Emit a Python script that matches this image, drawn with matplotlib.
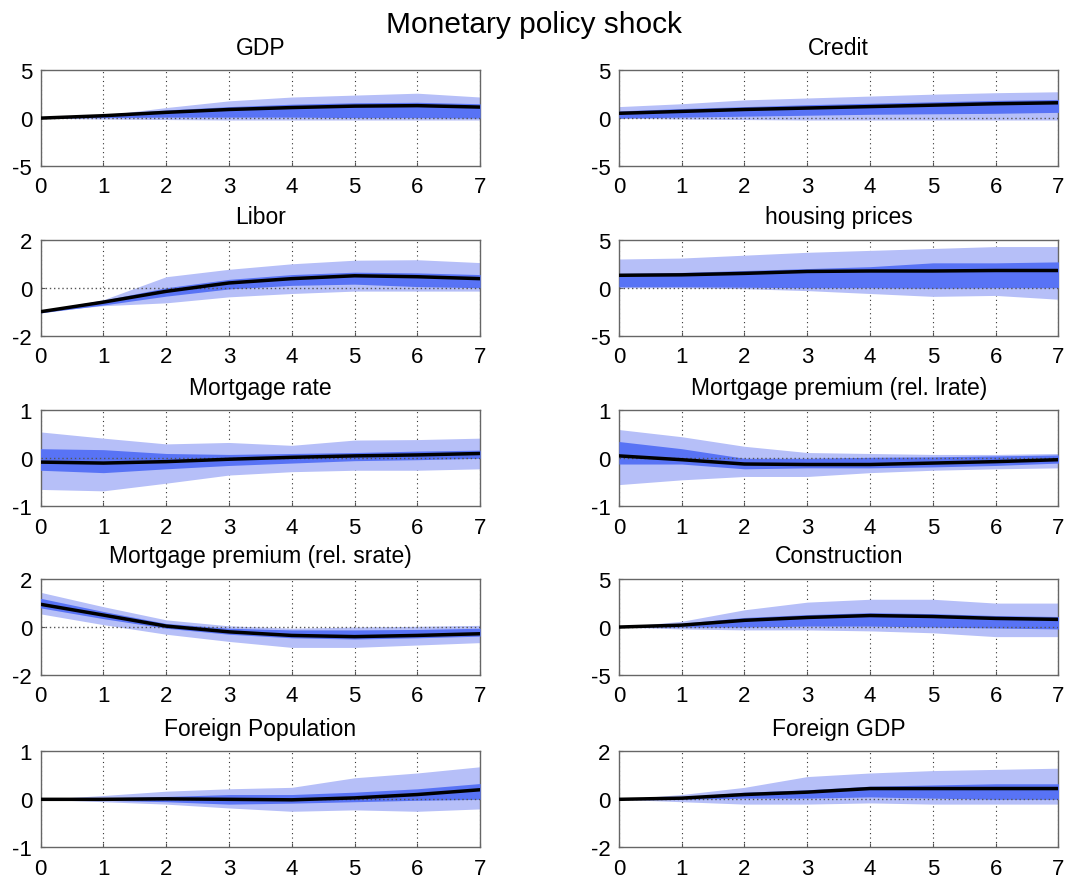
import matplotlib
matplotlib.use("Agg")
import matplotlib.pyplot as plt
import numpy as np

plt.rcParams['font.family'] = ['Liberation Sans', 'DejaVu Sans']
plt.rcParams['axes.unicode_minus'] = False

horizon = [0, 1, 2, 3, 4, 5, 6, 7]

titles = ["GDP", "Credit", "Libor", "housing prices", "Mortgage rate",
          "Mortgage premium (rel. lrate)", "Mortgage premium (rel. srate)",
          "Construction", "Foreign Population", "Foreign GDP"]

ylims = [(-5, 5), (-5, 5), (-2, 2), (-5, 5), (-1, 1),
         (-1, 1), (-2, 2), (-5, 5), (-1, 1), (-2, 2)]

# median responses
gdp_med = [0.0, 0.25, 0.6, 0.9, 1.1, 1.25, 1.3, 1.15]
credit_med = [0.5, 0.7, 0.9, 1.05, 1.2, 1.35, 1.5, 1.6]
libor_med = [-1.0, -0.6, -0.15, 0.2, 0.38, 0.5, 0.46, 0.38]
house_med = [1.3, 1.35, 1.5, 1.7, 1.75, 1.75, 1.8, 1.8]
mrate_med = [-0.08, -0.1, -0.07, -0.02, 0.02, 0.05, 0.07, 0.1]
mprem_l_med = [0.05, -0.03, -0.12, -0.13, -0.13, -0.1, -0.07, -0.03]
mprem_s_med = [0.95, 0.5, 0.04, -0.2, -0.35, -0.4, -0.35, -0.28]
constr_med = [0.0, 0.2, 0.7, 1.0, 1.2, 1.1, 0.9, 0.8]
fpop_med = [0.0, 0.0, 0.01, 0.0, -0.01, 0.03, 0.1, 0.2]
fgdp_med = [0.0, 0.05, 0.2, 0.3, 0.45, 0.45, 0.45, 0.45]

# outer (light) bands
gdp_lo = [0.0, -0.1, -0.15, -0.2, -0.2, -0.2, -0.2, -0.2]
gdp_hi = [0.0, 0.3, 1.1, 1.8, 2.2, 2.4, 2.6, 2.2]
credit_lo = [0.0, -0.1, -0.15, -0.2, -0.2, -0.2, -0.2, -0.2]
credit_hi = [1.2, 1.5, 1.9, 2.1, 2.3, 2.5, 2.65, 2.75]
libor_lo = [-1.0, -0.75, -0.63, -0.38, -0.24, -0.14, -0.14, -0.14]
libor_hi = [-1.0, -0.5, 0.46, 0.77, 1.0, 1.15, 1.17, 1.05]
house_lo = [0.0, 0.0, -0.1, -0.3, -0.6, -0.9, -0.8, -1.2]
house_hi = [3.0, 3.1, 3.4, 3.7, 3.9, 4.1, 4.3, 4.3]
mrate_lo = [-0.65, -0.68, -0.52, -0.35, -0.28, -0.25, -0.25, -0.22]
mrate_hi = [0.55, 0.42, 0.3, 0.33, 0.27, 0.38, 0.39, 0.42]
mprem_l_lo = [-0.55, -0.45, -0.38, -0.38, -0.3, -0.25, -0.22, -0.2]
mprem_l_hi = [0.6, 0.45, 0.25, 0.12, 0.1, 0.08, 0.08, 0.1]
mprem_s_lo = [0.55, 0.1, -0.3, -0.6, -0.85, -0.85, -0.75, -0.65]
mprem_s_hi = [1.45, 0.85, 0.3, 0.05, -0.05, 0.0, 0.03, 0.07]
constr_lo = [0.0, -0.2, -0.3, -0.3, -0.4, -0.6, -1.0, -1.0]
constr_hi = [0.0, 0.6, 1.8, 2.6, 2.9, 2.9, 2.5, 2.5]
fpop_lo = [0.0, -0.05, -0.1, -0.18, -0.25, -0.22, -0.25, -0.2]
fpop_hi = [0.0, 0.08, 0.17, 0.22, 0.25, 0.45, 0.55, 0.68]
fgdp_lo = [0.0, -0.1, -0.2, -0.2, -0.15, -0.2, -0.2, -0.2]
fgdp_hi = [0.0, 0.2, 0.5, 0.95, 1.1, 1.2, 1.25, 1.3]

# inner (dark) bands
gdp_ilo = [0.0, 0.05, 0.1, 0.1, 0.1, 0.05, 0.05, 0.0]
gdp_ihi = [0.05, 0.4, 0.85, 1.2, 1.45, 1.6, 1.65, 1.5]
credit_ilo = [0.0, 0.1, 0.2, 0.3, 0.4, 0.45, 0.5, 0.6]
credit_ihi = [0.75, 1.0, 1.2, 1.4, 1.55, 1.7, 1.85, 1.95]
libor_ilo = [-1.05, -0.72, -0.35, -0.05, 0.1, 0.15, 0.05, 0.0]
libor_ihi = [-0.95, -0.52, 0.0, 0.35, 0.55, 0.65, 0.62, 0.55]
house_ilo = [0.1, 0.1, 0.05, 0.0, 0.0, -0.05, 0.0, 0.0]
house_ihi = [1.5, 1.6, 1.8, 2.0, 2.2, 2.6, 2.6, 2.7]
mrate_ilo = [-0.25, -0.3, -0.22, -0.15, -0.1, -0.05, -0.03, 0.0]
mrate_ihi = [0.2, 0.18, 0.1, 0.08, 0.1, 0.12, 0.15, 0.17]
mprem_l_ilo = [-0.12, -0.12, -0.22, -0.2, -0.2, -0.18, -0.15, -0.1]
mprem_l_ihi = [0.35, 0.2, 0.0, 0.0, 0.02, 0.03, 0.05, 0.07]
mprem_s_ilo = [0.8, 0.35, -0.05, -0.3, -0.45, -0.5, -0.45, -0.38]
mprem_s_ihi = [1.2, 0.65, 0.15, -0.05, -0.12, -0.12, -0.1, -0.05]
constr_ilo = [0.0, 0.0, 0.0, 0.1, 0.1, 0.0, -0.1, -0.2]
constr_ihi = [0.05, 0.4, 1.0, 1.3, 1.5, 1.4, 1.2, 1.1]
fpop_ilo = [0.0, -0.02, -0.05, -0.1, -0.08, -0.05, -0.02, 0.0]
fpop_ihi = [0.0, 0.03, 0.06, 0.1, 0.1, 0.15, 0.22, 0.33]
fgdp_ilo = [0.0, 0.0, 0.05, 0.05, 0.1, 0.05, 0.0, 0.0]
fgdp_ihi = [0.0, 0.1, 0.3, 0.4, 0.55, 0.6, 0.65, 0.65]

medians = [gdp_med, credit_med, libor_med, house_med, mrate_med,
           mprem_l_med, mprem_s_med, constr_med, fpop_med, fgdp_med]
outer_lo = [gdp_lo, credit_lo, libor_lo, house_lo, mrate_lo,
            mprem_l_lo, mprem_s_lo, constr_lo, fpop_lo, fgdp_lo]
outer_hi = [gdp_hi, credit_hi, libor_hi, house_hi, mrate_hi,
            mprem_l_hi, mprem_s_hi, constr_hi, fpop_hi, fgdp_hi]
inner_lo = [gdp_ilo, credit_ilo, libor_ilo, house_ilo, mrate_ilo,
            mprem_l_ilo, mprem_s_ilo, constr_ilo, fpop_ilo, fgdp_ilo]
inner_hi = [gdp_ihi, credit_ihi, libor_ihi, house_ihi, mrate_ihi,
            mprem_l_ihi, mprem_s_ihi, constr_ihi, fpop_ihi, fgdp_ihi]

light = '#b6bff8'
dark = '#5873f5'

fig = plt.figure(figsize=(10.67, 8.79), dpi=100)
fig.suptitle("Monetary policy shock", fontsize=21.5, y=0.987)

lefts = [0.038, 0.580]
bottoms = [0.810, 0.617, 0.423, 0.231, 0.035]
w, h = 0.412, 0.109

for i in range(10):
    r, c = divmod(i, 2)
    ax = fig.add_axes([lefts[c], bottoms[r], w, h])
    ax.fill_between(horizon, outer_lo[i], outer_hi[i], color=light, lw=0, zorder=2)
    ax.fill_between(horizon, inner_lo[i], inner_hi[i], color=dark, lw=0, zorder=3)
    ax.axhline(0, color='#555555', ls=(0, (1, 2)), lw=1, zorder=4)
    ax.plot(horizon, medians[i], color='black', lw=2.5, zorder=5)
    ax.set_xlim(0, 7)
    ax.set_ylim(*ylims[i])
    ax.set_xticks(range(8))
    ax.set_yticks([ylims[i][0], 0, ylims[i][1]])
    ax.grid(axis='x', color='#333333', ls=(0, (1, 3)), lw=0.8, zorder=1)
    ax.set_axisbelow(True)
    ax.tick_params(direction='in', length=3, labelsize=16, color='#555555')
    ax.tick_params(axis='x', pad=7.5)
    ax.tick_params(axis='y', pad=6)
    for s in ax.spines.values():
        s.set_color('#666666')
        s.set_linewidth(1)
    ax.set_title(titles[i], fontsize=16.5, pad=12)

fig.savefig("out.png", dpi=100)
